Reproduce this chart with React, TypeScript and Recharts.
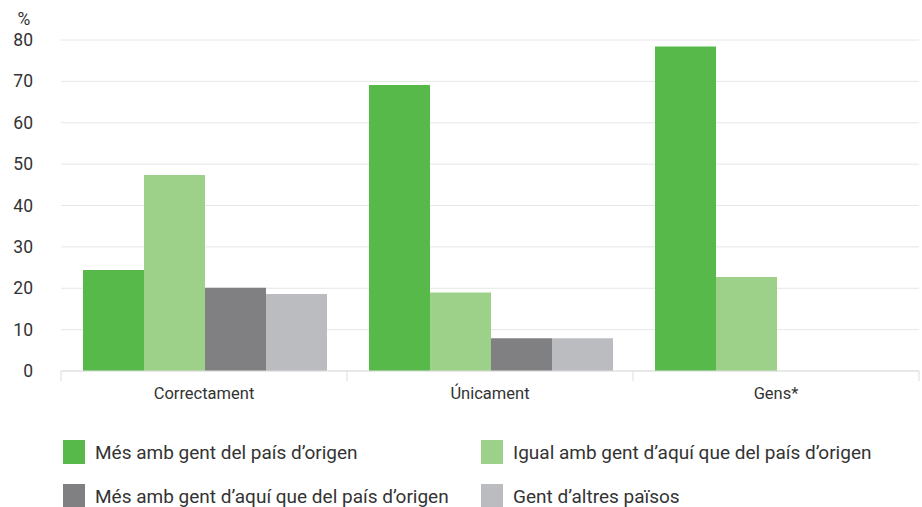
import { BarChart, Bar, XAxis, YAxis, CartesianGrid, Legend } from "recharts";

// ─── Data ───────────────────────────────────────────────────────────────────

const categories = ["Correctament", "Únicament", "Gens*"];
const mesOrigen = [24.4, 69.1, 78.4];
const igual = [47.4, 19.0, 22.7];
const mesAqui = [20.1, 7.9, 0];
const altres = [18.6, 7.9, 0];
const yTicks = [0, 10, 20, 30, 40, 50, 60, 70, 80];

const series = [
  { key: "mesOrigen", name: "Més amb gent del país d’origen", color: "#57b94a" },
  { key: "igual", name: "Igual amb gent d’aquí que del país d’origen", color: "#9dd18a" },
  { key: "mesAqui", name: "Més amb gent d’aquí que del país d’origen", color: "#808083" },
  { key: "altres", name: "Gent d’altres països", color: "#bbbcc0" },
];

const data = categories.map((cat, i) => ({
  cat,
  mesOrigen: mesOrigen[i],
  igual: igual[i],
  mesAqui: mesAqui[i],
  altres: altres[i],
}));

const W = 922;
const H = 507;
const FONT = "Roboto, 'Noto Sans', sans-serif";
const PLOT_LEFT = 61;
const PLOT_RIGHT = 919;
const BAND = (PLOT_RIGHT - PLOT_LEFT) / categories.length;

// ─── Ticks ──────────────────────────────────────────────────────────────────

function YTick({ y, payload }: any) {
  return (
    <text x={33} y={y} dy={6} textAnchor="end" fontSize={17.5} fill="#333" fontFamily={FONT}>
      {payload.value}
    </text>
  );
}

function XTick({ x, y, payload, index }: any) {
  const left = x - BAND / 2;
  const right = x + BAND / 2;
  return (
    <g>
      <line x1={left} x2={left} y1={y - 8} y2={y + 2} stroke="#ddd" />
      {index === categories.length - 1 && (
        <line x1={right} x2={right} y1={y - 8} y2={y + 2} stroke="#ddd" />
      )}
      <text x={x} y={y + 20} textAnchor="middle" fontSize={16.5} fill="#333" fontFamily={FONT}>
        {payload.value}
      </text>
    </g>
  );
}

// ─── Legend ─────────────────────────────────────────────────────────────────

function LegendBox() {
  const cols = [63, 481];
  return (
    <div style={{ position: "relative", width: W, height: 100, fontFamily: FONT }}>
      {series.map((s, i) => (
        <div
          key={s.key}
          style={{
            position: "absolute",
            left: cols[i % 2],
            top: i < 2 ? 33 : 77,
            display: "flex",
            alignItems: "center",
            whiteSpace: "nowrap",
          }}
        >
          <span style={{ width: 22, height: 24, background: s.color, display: "inline-block" }} />
          <span style={{ marginLeft: 10, fontSize: 19, color: "#333" }}>{s.name}</span>
        </div>
      ))}
    </div>
  );
}

// ─── Chart ──────────────────────────────────────────────────────────────────

export default function App() {
  return (
    <div style={{ width: W, height: H, background: "#fff" }}>
      <style>{`body{margin:0}`}</style>
      <BarChart
        width={W}
        height={H}
        data={data}
        margin={{ top: 40, right: 3, left: 0, bottom: 0 }}
        barCategoryGap={22}
        barGap={0}
      >
        <CartesianGrid vertical={false} stroke="#e6e6e6" />
        <XAxis
          dataKey="cat"
          height={36}
          axisLine={{ stroke: "#ddd" }}
          tickLine={false}
          tick={<XTick />}
          interval={0}
        />
        <YAxis
          width={61}
          domain={[0, 80]}
          ticks={yTicks}
          axisLine={false}
          tickLine={false}
          tick={<YTick />}
          label={({ viewBox }: any) => (
            <text x={24} y={viewBox.y - 15} textAnchor="middle" fontSize={17.5} fill="#333" fontFamily={FONT}>
              %
            </text>
          )}
        />
        <Legend verticalAlign="bottom" height={100} content={() => <LegendBox />} />
        {series.map((s) => (
          <Bar key={s.key} dataKey={s.key} name={s.name} fill={s.color} isAnimationActive={false} />
        ))}
      </BarChart>
    </div>
  );
}
